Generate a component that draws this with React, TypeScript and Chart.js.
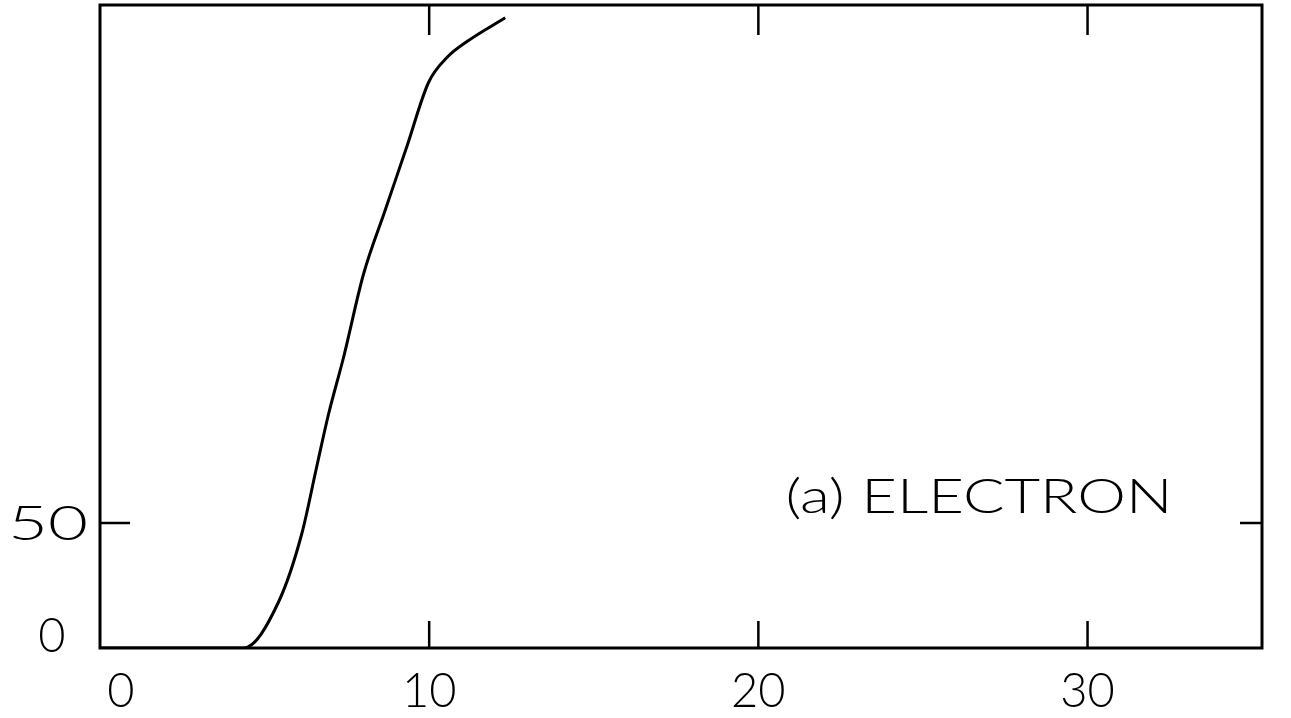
import React, { useEffect, useRef } from "react";
import { Chart, registerables } from "chart.js";

Chart.register(...registerables);

// Data
const energy = [0, 4.36, 5.42, 6.13, 6.58, 6.94, 7.4, 8.0, 8.66, 9.32, 9.98, 10.54, 11.15, 12.31];
const signal = [0, 0, 18.3, 45.7, 72.3, 93.4, 116.3, 149.3, 175.0, 200.5, 226.2, 236.2, 242.6, 252.1];
const xTicks = [0, 10, 20, 30];
const yTicks = [0, 50];
const xMax = 35.3;
const yMax = 257.2;
const panelLabel = "(a) ELECTRON";

const FONT = '300 47px Lato, "DejaVu Sans", sans-serif';

function drawFitted(ctx: CanvasRenderingContext2D, text: string, cx: number, baseline: number, width?: number) {
  ctx.save();
  ctx.font = FONT;
  ctx.fillStyle = "#000";
  ctx.textAlign = "center";
  ctx.textBaseline = "alphabetic";
  const w = ctx.measureText(text).width;
  ctx.translate(cx, baseline);
  if (width) ctx.scale(width / w, 1);
  ctx.fillText(text, 0, 0);
  ctx.restore();
}

const framePlugin = {
  id: "frameTicks",
  afterDraw(chart: any) {
    const ctx: CanvasRenderingContext2D = chart.ctx;
    const { left, right, top, bottom } = chart.chartArea;
    const xs = chart.scales.x;
    const ys = chart.scales.y;
    ctx.save();
    ctx.strokeStyle = "#000";
    ctx.lineWidth = 3;
    ctx.strokeRect(left, top, right - left, bottom - top);
    ctx.lineWidth = 2.5;
    ctx.beginPath();
    xTicks.forEach((v) => {
      if (v === 0) return;
      const px = xs.getPixelForValue(v);
      ctx.moveTo(px, bottom);
      ctx.lineTo(px, bottom - 27);
      ctx.moveTo(px, top);
      ctx.lineTo(px, top + 30);
    });
    yTicks.forEach((v) => {
      if (v === 0) return;
      const py = ys.getPixelForValue(v);
      ctx.moveTo(left, py);
      ctx.lineTo(left + 30, py);
      ctx.moveTo(right, py);
      ctx.lineTo(right - 22, py);
    });
    ctx.stroke();
    ctx.restore();

    // x tick labels
    xTicks.forEach((v) => {
      const px = xs.getPixelForValue(v) + (v === 0 ? 21 : 0);
      drawFitted(ctx, String(v), px, bottom + 59);
    });
    // y tick labels
    yTicks.forEach((v) => {
      const py = ys.getPixelForValue(v);
      if (v === 0) drawFitted(ctx, String(v), left - 48, py + 4);
      else drawFitted(ctx, String(v), left - 52, py + 17, 80);
    });
    // panel label
    drawFitted(ctx, panelLabel, xs.getPixelForValue(26.7), ys.getPixelForValue(54), 387);
  },
};

export default function App() {
  const ref = useRef<HTMLCanvasElement | null>(null);
  useEffect(() => {
    if (!ref.current) return;
    const chart = new Chart(ref.current, {
      type: "line",
      data: {
        datasets: [
          {
            data: energy.map((x, i) => ({ x, y: signal[i] })),
            borderColor: "#000",
            borderWidth: 3,
            pointRadius: 0,
            cubicInterpolationMode: "monotone",
            fill: false,
          },
        ],
      },
      options: {
        animation: false,
        responsive: true,
        maintainAspectRatio: false,
        layout: { padding: { left: 100, top: 5, right: 29, bottom: 70 } },
        plugins: { legend: { display: false }, tooltip: { enabled: false } },
        scales: {
          x: { type: "linear", min: 0, max: xMax, display: false },
          y: { type: "linear", min: 0, max: yMax, display: false },
        },
      },
      plugins: [framePlugin],
    });
    return () => chart.destroy();
  }, []);
  return (
    <div style={{ position: "fixed", left: 0, top: 0, width: 1291, height: 718, background: "#fff" }}>
      <canvas ref={ref} />
    </div>
  );
}
